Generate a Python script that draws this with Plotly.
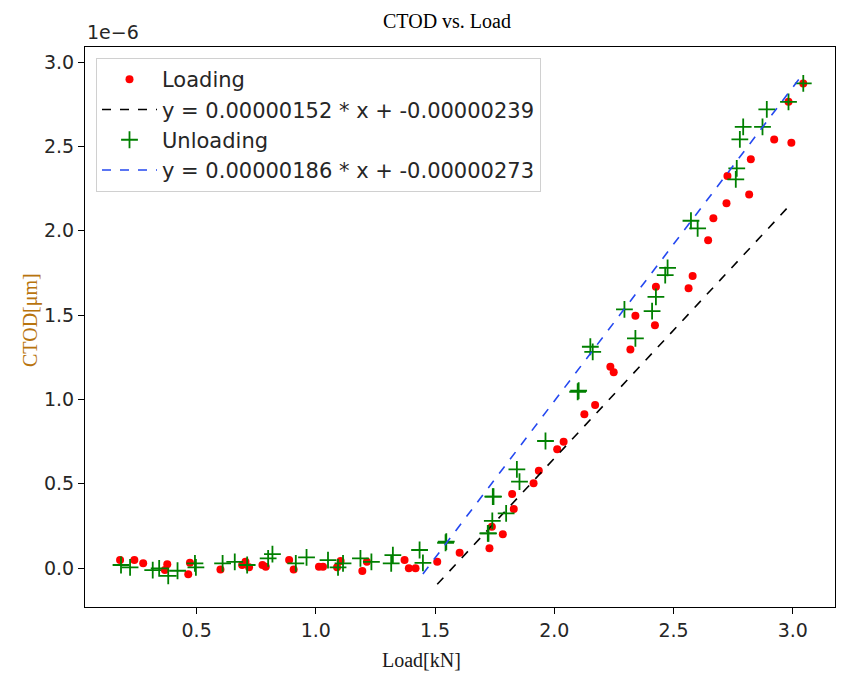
import plotly.graph_objects as go

# ---- data (CTOD in units of 1e-6) ----
load_loading = [0.179, 0.239, 0.276, 0.367, 0.377, 0.465, 0.472, 0.600, 0.691, 0.705,
                0.720, 0.776, 0.790, 0.888, 0.907, 1.013, 1.030, 1.089, 1.104, 1.195,
                1.214, 1.372, 1.390, 1.418, 1.509, 1.603, 1.728, 1.738, 1.784, 1.823,
                1.830, 1.913, 1.935, 2.012, 2.039, 2.126, 2.171, 2.235, 2.249, 2.319,
                2.340, 2.422, 2.426, 2.563, 2.580, 2.645, 2.667, 2.722, 2.726, 2.817,
                2.824, 2.922, 2.982, 2.994, 3.044]
ctod_loading = [0.047, 0.047, 0.028, -0.012, 0.022, -0.037, 0.031, -0.008, 0.018, 0.037,
                0.004, 0.018, 0.008, 0.047, -0.008, 0.008, 0.008, 0.004, 0.041, -0.018,
                0.037, 0.047, -0.002, -0.002, 0.037, 0.091, 0.117, 0.245, 0.200, 0.439,
                0.350, 0.502, 0.577, 0.704, 0.749, 0.911, 0.966, 1.193, 1.160, 1.296,
                1.496, 1.440, 1.668, 1.658, 1.731, 1.944, 2.073, 2.162, 2.324, 2.215,
                2.423, 2.541, 2.764, 2.521, 2.873]

load_unloading = [0.183, 0.221, 0.316, 0.343, 0.381, 0.420, 0.493, 0.497, 0.609, 0.660,
                  0.712, 0.800, 0.818, 0.916, 0.961, 1.051, 1.093, 1.114, 1.187, 1.233,
                  1.316, 1.323, 1.435, 1.449, 1.544, 1.547, 1.721, 1.724, 1.740, 1.742,
                  1.745, 1.798, 1.843, 1.854, 1.963, 2.098, 2.102, 2.151, 2.161, 2.294,
                  2.340, 2.410, 2.426, 2.465, 2.475, 2.573, 2.601, 2.761, 2.765, 2.778,
                  2.792, 2.873, 2.891, 2.982, 3.044]
ctod_unloading = [0.018, 0.004, -0.012, -0.002, -0.047, -0.016, 0.028, 0.004, 0.028, 0.037,
                  0.018, 0.057, 0.083, 0.028, 0.063, 0.047, 0.004, 0.028, 0.057, 0.037,
                  0.028, 0.077, 0.107, 0.031, 0.150, 0.156, 0.206, 0.206, 0.280, 0.423,
                  0.423, 0.324, 0.585, 0.512, 0.753, 1.045, 1.051, 1.312, 1.282, 1.533,
                  1.362, 1.523, 1.608, 1.737, 1.780, 2.059, 2.014, 2.304, 2.369, 2.541,
                  2.616, 2.616, 2.719, 2.764, 2.873]

# linear fits (slope / intercept in 1e-6 units) and their x extents
fit_loading = (1.52, -2.39)
fit_loading_x = [1.509, 2.982]
fit_unloading = (1.86, -2.73)
fit_unloading_x = [1.449, 3.044]

legend_loading_fit = "y = 0.00000152 * x + -0.00000239"
legend_unloading_fit = "y = 0.00000186 * x + -0.00000273"

x_ticks = [0.5, 1.0, 1.5, 2.0, 2.5, 3.0]
y_ticks = [0.0, 0.5, 1.0, 1.5, 2.0, 2.5, 3.0]

# ---- figure geometry (page has an 8px body margin) ----
OFF = 8
W, H = 844 - 2 * OFF, 682 - 2 * OFF
PL, PR, PT, PB = 85, 835, 47, 607          # plot area in page pixels
L, R, T, B = PL - OFF, W - (PR - OFF), PT - OFF, H - (PB - OFF)
PW, PH = W - L - R, H - T - B


def px_x(page_x):
    return (page_x - PL) / PW


def px_y(page_y):
    return (PB - page_y) / PH


fig = go.Figure()
fig.add_trace(go.Scatter(
    x=load_loading, y=ctod_loading, mode="markers", name="Loading",
    marker=dict(symbol="circle", size=8, color="red", line=dict(width=0))))
fig.add_trace(go.Scatter(
    x=fit_loading_x, y=[fit_loading[0] * v + fit_loading[1] for v in fit_loading_x],
    mode="lines", name=legend_loading_fit,
    line=dict(color="black", dash="dash", width=1.6)))
fig.add_trace(go.Scatter(
    x=load_unloading, y=ctod_unloading, mode="markers", name="Unloading",
    marker=dict(symbol="cross-thin", size=12, color="green",
                line=dict(width=1.8, color="green"))))
fig.add_trace(go.Scatter(
    x=fit_unloading_x, y=[fit_unloading[0] * v + fit_unloading[1] for v in fit_unloading_x],
    mode="lines", name=legend_unloading_fit,
    line=dict(color="#2448f0", dash="dash", width=1.6)))

tickfont = dict(family="DejaVu Sans", size=19, color="#262626")
axis_common = dict(showline=True, linecolor="black", linewidth=1.2, mirror=True,
                   ticks="outside", ticklen=6, tickwidth=1.2, tickcolor="black",
                   showgrid=False, zeroline=False, tickfont=tickfont)

fig.update_layout(
    width=W, height=H,
    margin=dict(l=L, r=R, t=T, b=B, autoexpand=False),
    paper_bgcolor="white", plot_bgcolor="white",
    showlegend=True,
    legend=dict(x=px_x(96), y=px_y(58),
                xanchor="left", yanchor="top",
                bgcolor="white", bordercolor="#d0d0d0", borderwidth=1,
                font=dict(family="DejaVu Sans", size=21, color="#262626"),
                itemwidth=55, tracegroupgap=0),
    xaxis=dict(range=[0.032, 3.177], tickvals=x_ticks,
               ticktext=[f"{v:.1f}" for v in x_ticks], **axis_common),
    yaxis=dict(range=[-0.231, 3.089], tickvals=y_ticks,
               ticktext=[f"{v:.1f}" for v in y_ticks], **axis_common),
    annotations=[
        dict(text="CTOD vs. Load", xref="paper", yref="paper",
             x=px_x(447), y=px_y(21),
             xanchor="center", yanchor="middle", showarrow=False,
             font=dict(family="Liberation Serif", size=20, color="black")),
        dict(text="Load[kN]", xref="paper", yref="paper",
             x=px_x(421), y=px_y(660),
             xanchor="center", yanchor="middle", showarrow=False,
             font=dict(family="Liberation Serif", size=20, color="#1a1a1a")),
        dict(text="CTOD[μm]", xref="paper", yref="paper",
             x=px_x(30), y=px_y(320),
             xanchor="center", yanchor="middle", showarrow=False, textangle=-90,
             font=dict(family="Liberation Serif", size=20, color="#b8740e")),
        dict(text="1e−6", xref="paper", yref="paper", x=0, y=1,
             xanchor="left", yanchor="bottom", yshift=2, showarrow=False,
             font=dict(family="DejaVu Sans", size=19, color="#262626")),
    ],
)

fig.write_html("out.html")
